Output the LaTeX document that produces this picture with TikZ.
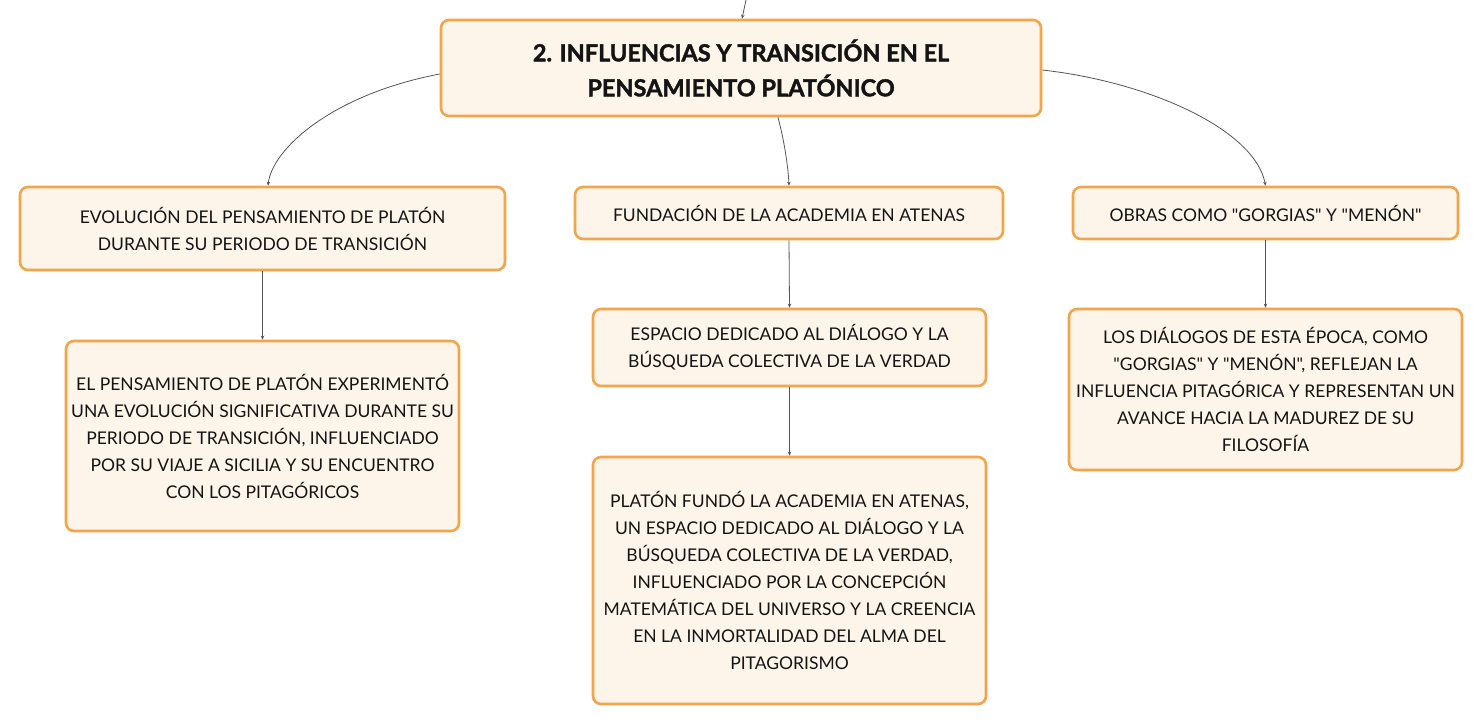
\documentclass[tikz,border=0pt]{standalone}
\usepackage{fontspec}
\setmainfont{Lato}[Ligatures=TeXOff]
\newfontfamily\titlefont{Lato}[Ligatures=TeXOff,BoldFeatures={FakeBold=1.6}]
\usetikzlibrary{arrows.meta}
\definecolor{boxfill}{HTML}{FEF5EA}
\definecolor{boxdraw}{HTML}{F2A54A}
\definecolor{linkc}{HTML}{555555}
\begin{document}
\begin{tikzpicture}[x=1pt,y=-1pt,
  box/.style={draw=boxdraw,line width=2.6pt,fill=boxfill,rounded corners=8pt,align=center,inner sep=0pt,text=black!92,font=\fontsize{17.5}{27}\selectfont},
  titlebox/.style={box,font=\titlefont\fontsize{23.5}{35}\selectfont\bfseries},
  link/.style={draw=linkc,line width=0.8pt,-{Stealth[length=4pt,width=3.5pt]}}]
\useasboundingbox (0,0) rectangle (1482,725);
\node[titlebox,minimum width=600pt,minimum height=96pt] (top) at (741,68) {2. INFLUENCIAS Y TRANSICIÓN EN EL\\PENSAMIENTO PLATÓNICO};
\coordinate (in) at (746,0);
\node[box,minimum width=485pt,minimum height=83pt] (n1) at (262.5,228.5) {EVOLUCIÓN DEL PENSAMIENTO DE PLATÓN\\DURANTE SU PERIODO DE TRANSICIÓN};
\node[box,minimum width=428pt,minimum height=52pt] (n2) at (789,213) {FUNDACIÓN DE LA ACADEMIA EN ATENAS};
\node[box,minimum width=385pt,minimum height=52pt] (n3) at (1265.5,213) {OBRAS COMO "GORGIAS" Y "MENÓN"};
\node[box,minimum width=393pt,minimum height=190pt] (c1) at (262.5,436) {EL PENSAMIENTO DE PLATÓN EXPERIMENTÓ\\UNA EVOLUCIÓN SIGNIFICATIVA DURANTE SU\\PERIODO DE TRANSICIÓN, INFLUENCIADO\\POR SU VIAJE A SICILIA Y SU ENCUENTRO\\CON LOS PITAGÓRICOS};
\node[box,minimum width=393pt,minimum height=77pt] (c2) at (789.5,347.5) {ESPACIO DEDICADO AL DIÁLOGO Y LA\\BÚSQUEDA COLECTIVA DE LA VERDAD};
\node[box,minimum width=393pt,minimum height=247pt] (c3) at (789.5,580.5) {PLATÓN FUNDÓ LA ACADEMIA EN ATENAS,\\UN ESPACIO DEDICADO AL DIÁLOGO Y LA\\BÚSQUEDA COLECTIVA DE LA VERDAD,\\INFLUENCIADO POR LA CONCEPCIÓN\\MATEMÁTICA DEL UNIVERSO Y LA CREENCIA\\EN LA INMORTALIDAD DEL ALMA DEL\\PITAGORISMO};
\node[box,minimum width=393pt,minimum height=161pt] (c4) at (1265.5,389.5) {LOS DIÁLOGOS DE ESTA ÉPOCA, COMO\\"GORGIAS" Y "MENÓN", REFLEJAN LA\\INFLUENCIA PITAGÓRICA Y REPRESENTAN UN\\AVANCE HACIA LA MADUREZ DE SU\\FILOSOFÍA};
\draw[link] (in) -- (top.north -| 742,0);
\draw[link] (top.west |- 0,74) .. controls (330,95) and (272,150) .. (n1.north -| 268,0);
\draw[link] (top.south -| 778,0) .. controls (784,140) and (788,165) .. (n2.north);
\draw[link] (top.east |- 0,70) .. controls (1150,82) and (1255,130) .. (n3.north);
\draw[link] (n1.south) -- (c1.north);
\draw[link] (n2.south) -- (c2.north);
\draw[link] (c2.south) -- (c3.north);
\draw[link] (n3.south) -- (c4.north);
\end{tikzpicture}
\end{document}
